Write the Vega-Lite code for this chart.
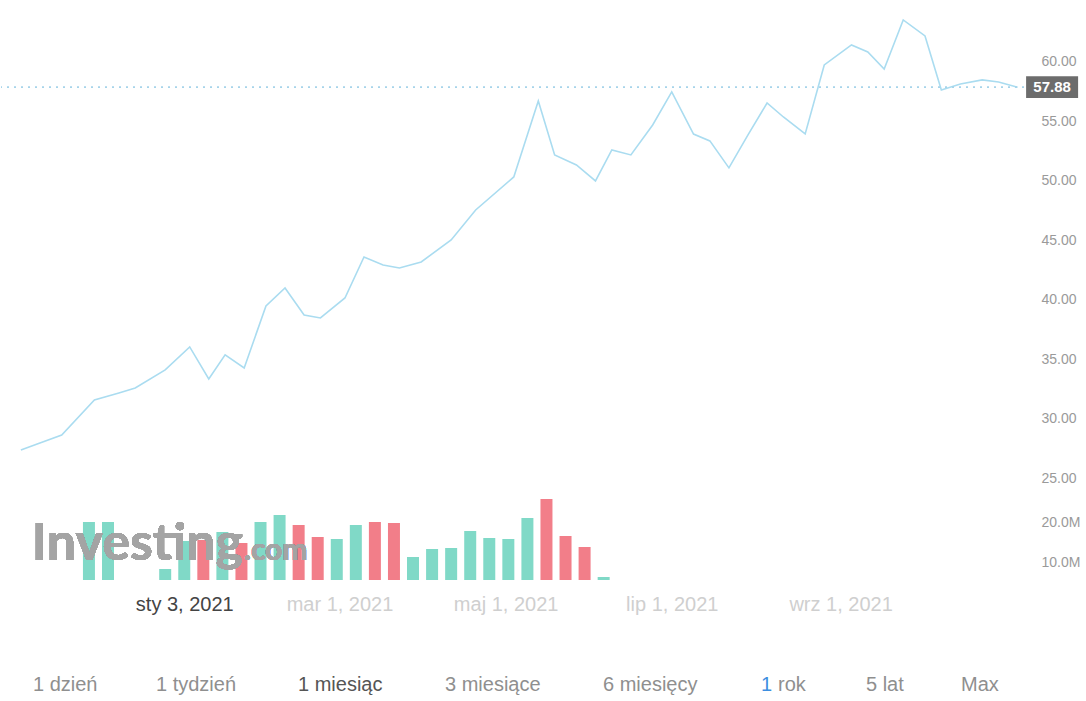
{
  "$schema": "https://vega.github.io/schema/vega-lite/v6.json",
  "padding": 0,
  "background": "white",
  "config": {
    "view": {"stroke": null},
    "locale": {
      "time": {
        "dateTime": "%A, %e %B %Y, %X",
        "date": "%d.%m.%Y",
        "time": "%H:%M:%S",
        "periods": ["AM", "PM"],
        "days": ["niedziela", "poniedziałek", "wtorek", "środa", "czwartek", "piątek", "sobota"],
        "shortDays": ["niedz.", "pon.", "wt.", "śr.", "czw.", "pt.", "sob."],
        "months": ["styczeń", "luty", "marzec", "kwiecień", "maj", "czerwiec", "lipiec", "sierpień", "wrzesień", "październik", "listopad", "grudzień"],
        "shortMonths": ["sty", "lut", "mar", "kwi", "maj", "cze", "lip", "sie", "wrz", "paź", "lis", "gru"]
      }
    }
  },
  "datasets": {
    "prices": [
      {"date": "2020-11-04", "price": 27.37},
      {"date": "2020-11-11", "price": 27.96},
      {"date": "2020-11-19", "price": 28.63},
      {"date": "2020-12-01", "price": 31.57},
      {"date": "2020-12-10", "price": 32.16},
      {"date": "2020-12-16", "price": 32.58},
      {"date": "2020-12-27", "price": 34.10},
      {"date": "2021-01-05", "price": 36.03},
      {"date": "2021-01-12", "price": 33.34},
      {"date": "2021-01-18", "price": 35.36},
      {"date": "2021-01-25", "price": 34.26},
      {"date": "2021-02-02", "price": 39.48},
      {"date": "2021-02-09", "price": 40.99},
      {"date": "2021-02-16", "price": 38.72},
      {"date": "2021-02-22", "price": 38.47},
      {"date": "2021-03-03", "price": 40.15},
      {"date": "2021-03-10", "price": 43.60},
      {"date": "2021-03-17", "price": 42.93},
      {"date": "2021-03-23", "price": 42.67},
      {"date": "2021-03-31", "price": 43.18},
      {"date": "2021-04-11", "price": 45.03},
      {"date": "2021-04-20", "price": 47.55},
      {"date": "2021-05-04", "price": 50.33},
      {"date": "2021-05-13", "price": 56.72},
      {"date": "2021-05-19", "price": 52.18},
      {"date": "2021-05-27", "price": 51.34},
      {"date": "2021-06-03", "price": 49.99},
      {"date": "2021-06-09", "price": 52.60},
      {"date": "2021-06-16", "price": 52.18},
      {"date": "2021-06-24", "price": 54.70},
      {"date": "2021-07-01", "price": 57.48},
      {"date": "2021-07-09", "price": 53.94},
      {"date": "2021-07-15", "price": 53.36},
      {"date": "2021-07-22", "price": 51.09},
      {"date": "2021-07-29", "price": 53.86},
      {"date": "2021-08-05", "price": 56.55},
      {"date": "2021-08-11", "price": 55.37},
      {"date": "2021-08-19", "price": 53.94},
      {"date": "2021-08-26", "price": 59.75},
      {"date": "2021-09-05", "price": 61.43},
      {"date": "2021-09-11", "price": 60.84},
      {"date": "2021-09-17", "price": 59.41},
      {"date": "2021-09-24", "price": 63.53},
      {"date": "2021-10-02", "price": 62.19},
      {"date": "2021-10-08", "price": 57.65},
      {"date": "2021-10-15", "price": 58.15},
      {"date": "2021-10-23", "price": 58.49},
      {"date": "2021-10-29", "price": 58.32},
      {"date": "2021-11-05", "price": 57.88}
    ],
    "volume": [
      {"date": "2020-11-29", "volume": 20.0, "direction": "up"},
      {"date": "2020-12-06", "volume": 20.0, "direction": "up"},
      {"date": "2020-12-27", "volume": 8.25, "direction": "up"},
      {"date": "2021-01-03", "volume": 15.25, "direction": "up"},
      {"date": "2021-01-10", "volume": 15.5, "direction": "down"},
      {"date": "2021-01-17", "volume": 17.5, "direction": "up"},
      {"date": "2021-01-24", "volume": 14.75, "direction": "down"},
      {"date": "2021-01-31", "volume": 20.0, "direction": "up"},
      {"date": "2021-02-07", "volume": 21.75, "direction": "up"},
      {"date": "2021-02-14", "volume": 19.25, "direction": "down"},
      {"date": "2021-02-21", "volume": 16.25, "direction": "down"},
      {"date": "2021-02-28", "volume": 15.75, "direction": "up"},
      {"date": "2021-03-07", "volume": 19.25, "direction": "up"},
      {"date": "2021-03-14", "volume": 20.0, "direction": "down"},
      {"date": "2021-03-21", "volume": 19.75, "direction": "down"},
      {"date": "2021-03-28", "volume": 11.25, "direction": "up"},
      {"date": "2021-04-04", "volume": 13.25, "direction": "up"},
      {"date": "2021-04-11", "volume": 13.5, "direction": "up"},
      {"date": "2021-04-18", "volume": 17.75, "direction": "up"},
      {"date": "2021-04-25", "volume": 16.0, "direction": "up"},
      {"date": "2021-05-02", "volume": 15.75, "direction": "up"},
      {"date": "2021-05-09", "volume": 21.0, "direction": "up"},
      {"date": "2021-05-16", "volume": 25.75, "direction": "down"},
      {"date": "2021-05-23", "volume": 16.5, "direction": "down"},
      {"date": "2021-05-30", "volume": 13.75, "direction": "down"},
      {"date": "2021-06-06", "volume": 6.25, "direction": "up"}
    ],
    "buttons": [
      {"order": 1, "label": "1 dzień"},
      {"order": 2, "label": "1 tydzień"},
      {"order": 3, "label": "1 miesiąc"},
      {"order": 4, "label": "3 miesiące"},
      {"order": 5, "label": "6 miesięcy"},
      {"order": 6, "label": "1 rok"},
      {"order": 7, "label": "5 lat"},
      {"order": 8, "label": "Max"}
    ]
  },
  "spacing": 51,
  "vconcat": [
    {
      "width": 1030,
      "height": 580,
      "layer": [
        {
          "data": {"name": "prices"},
          "encoding": {
            "x": {
              "field": "date", "type": "temporal",
              "scale": {"type": "utc", "domain": [{"year": 2020, "month": 10, "date": 29, "hours": 13, "utc": true}, {"year": 2021, "month": 11, "date": 8, "hours": 2, "utc": true}]},
              "axis": {
                "values": [
                  {"year": 2021, "month": 1, "date": 3, "utc": true},
                  {"year": 2021, "month": 3, "date": 1, "utc": true},
                  {"year": 2021, "month": 5, "date": 1, "utc": true},
                  {"year": 2021, "month": 7, "date": 1, "utc": true},
                  {"year": 2021, "month": 9, "date": 1, "utc": true}
                ],
                "format": "%b %-d, %Y",
                "labelFont": "Liberation Sans",
                "labelFontSize": 20,
                "labelColor": {"condition": {"test": "utcmonth(datum.value) == 0", "value": "#444444"}, "value": "#cfcfcf"},
                "labelPadding": 14,
                "ticks": false, "domain": false, "grid": false, "title": null
              }
            },
            "y": {
              "field": "price", "type": "quantitative",
              "scale": {"domain": [16.43, 65.21], "zero": false, "nice": false},
              "axis": {
                "orient": "right",
                "values": [25, 30, 35, 40, 45, 50, 55, 60],
                "format": ".2f",
                "labelFont": "Liberation Sans",
                "labelFontSize": 14,
                "labelColor": "#9a9a9a",
                "labelPadding": 10,
                "ticks": false, "domain": false, "grid": false, "title": null
              }
            }
          },
          "layer": [
            {"mark": {"type": "line", "color": "#aadcf0", "strokeWidth": 1.6}},
            {
              "transform": [
                {"window": [{"op": "rank", "as": "r"}], "sort": [{"field": "date", "order": "descending"}]},
                {"filter": "datum.r == 1"}
              ],
              "layer": [
                {"mark": {"type": "rule", "color": "#a6d4ea", "strokeDash": [2, 5], "strokeWidth": 1.6}, "encoding": {"x": null}},
                {"mark": {"type": "point", "shape": "M-1,-0.42H1V0.42H-1Z", "size": 2704, "filled": true, "color": "#6c6c6c", "opacity": 1, "xOffset": 34.5, "clip": false}},
                {"mark": {"type": "text", "color": "white", "font": "Liberation Sans", "fontWeight": "bold", "fontSize": 15, "align": "center", "baseline": "middle", "xOffset": 34.5, "clip": false}, "encoding": {"text": {"field": "price", "type": "quantitative", "format": ".2f"}}}
              ]
            }
          ]
        },
        {
          "data": {"name": "volume"},
          "encoding": {
            "x": {
              "field": "date", "type": "temporal",
              "scale": {"type": "utc", "domain": [{"year": 2020, "month": 10, "date": 29, "hours": 13, "utc": true}, {"year": 2021, "month": 11, "date": 8, "hours": 2, "utc": true}]},
              "axis": {
                "values": [
                  {"year": 2021, "month": 1, "date": 3, "utc": true},
                  {"year": 2021, "month": 3, "date": 1, "utc": true},
                  {"year": 2021, "month": 5, "date": 1, "utc": true},
                  {"year": 2021, "month": 7, "date": 1, "utc": true},
                  {"year": 2021, "month": 9, "date": 1, "utc": true}
                ],
                "format": "%b %-d, %Y",
                "labelFont": "Liberation Sans",
                "labelFontSize": 20,
                "labelColor": {"condition": {"test": "utcmonth(datum.value) == 0", "value": "#444444"}, "value": "#cfcfcf"},
                "labelPadding": 14,
                "ticks": false, "domain": false, "grid": false, "title": null
              }
            }
          },
          "layer": [
            {
              "mark": {"type": "bar", "width": 12},
              "encoding": {
                "y": {
                  "field": "volume", "type": "quantitative",
                  "scale": {"domain": [5.5, 150.5], "zero": false, "nice": false},
                  "axis": {
                    "orient": "right",
                    "values": [10, 20],
                    "labelExpr": "format(datum.value, '.1f') + 'M'",
                    "labelFont": "Liberation Sans",
                    "labelFontSize": 14,
                    "labelColor": "#9a9a9a",
                    "labelPadding": 10,
                    "ticks": false, "domain": false, "grid": false, "title": null
                  }
                },
                "y2": {"datum": 5.5},
                "color": {"field": "direction", "type": "nominal", "scale": {"domain": ["up", "down"], "range": ["#80d9c7", "#f27e89"]}, "legend": null}
              }
            },
            {
              "mark": {"type": "text", "text": "Investing", "font": "Lato", "fontWeight": "bold", "fontSize": 52, "color": "#a4a4a4", "opacity": 0.75, "align": "left", "baseline": "alphabetic"},
              "encoding": {
                "x": {"datum": {"year": 2020, "month": 11, "date": 8, "utc": true}, "type": "temporal"},
                "y": {"datum": 10.5, "type": "quantitative"}
              }
            },
            {
              "mark": {"type": "text", "text": ".com", "font": "Lato", "fontWeight": "bold", "fontSize": 30, "color": "#a4a4a4", "opacity": 0.65, "align": "left", "baseline": "alphabetic", "dx": 212},
              "encoding": {
                "x": {"datum": {"year": 2020, "month": 11, "date": 8, "utc": true}, "type": "temporal"},
                "y": {"datum": 10.5, "type": "quantitative"}
              }
            }
          ]
        }
      ],
      "resolve": {"scale": {"y": "independent"}, "axis": {"y": "independent"}}
    },
    {
      "width": 1030,
      "height": 40,
      "data": {"name": "buttons"},
      "encoding": {
        "x": {"field": "order", "type": "quantitative", "scale": {"domain": [1, 2, 3, 4, 5, 6, 7, 8], "range": [32, 155, 297, 444, 602, 760, 865, 960]}, "axis": null}
      },
      "layer": [
        {
          "transform": [{"filter": "datum.label != '1 rok'"}],
          "mark": {"type": "text", "align": "left", "baseline": "middle", "font": "Liberation Sans", "fontSize": 20},
          "encoding": {
            "text": {"field": "label"},
            "color": {"condition": {"test": "datum.label == '1 miesiąc'", "value": "#555555"}, "value": "#8f8f8f"}
          }
        },
        {
          "transform": [{"filter": "datum.label == '1 rok'"}],
          "mark": {"type": "text", "align": "left", "baseline": "middle", "font": "Liberation Sans", "fontSize": 20, "color": "#3d8fe0"},
          "encoding": {"text": {"value": "1"}}
        },
        {
          "transform": [{"filter": "datum.label == '1 rok'"}],
          "mark": {"type": "text", "align": "left", "baseline": "middle", "font": "Liberation Sans", "fontSize": 20, "color": "#8f8f8f", "dx": 17},
          "encoding": {"text": {"value": "rok"}}
        }
      ]
    }
  ]
}
